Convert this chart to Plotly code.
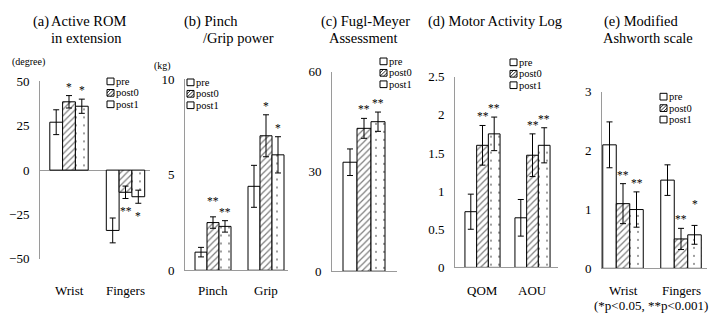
import plotly.graph_objects as go

W, H = 711, 325
SERIF = "Liberation Serif"

series_names = ["pre", "post0", "post1"]

# (a) Active ROM in extension, degree
rom_cats = ["Wrist", "Fingers"]
rom_pre = [27, -34]
rom_post0 = [38.5, -12.5]
rom_post1 = [36, -15]
rom_pre_err = [7, 7]
rom_post0_err = [3.5, 3.5]
rom_post1_err = [4, 3.7]
rom_post0_sig = ["*", "**"]
rom_post1_sig = ["*", "*"]
rom_ticks = [-50, -25, 0, 25, 50]

# (b) Pinch / Grip power, kg
grip_cats = ["Pinch", "Grip"]
grip_pre = [0.95, 4.4]
grip_post0 = [2.5, 7.05]
grip_post1 = [2.3, 6.05]
grip_pre_err = [0.25, 1.1]
grip_post0_err = [0.3, 1.1]
grip_post1_err = [0.3, 0.95]
grip_post0_sig = ["**", "*"]
grip_post1_sig = ["**", "*"]
grip_ticks = [0, 5, 10]

# (c) Fugl-Meyer Assessment
fma_cats = [""]
fma_pre = [32.8]
fma_post0 = [43]
fma_post1 = [45]
fma_pre_err = [4]
fma_post0_err = [3]
fma_post1_err = [2.9]
fma_post0_sig = ["**"]
fma_post1_sig = ["**"]
fma_ticks = [0, 30, 60]

# (d) Motor Activity Log
mal_cats = ["QOM", "AOU"]
mal_pre = [0.73, 0.65]
mal_post0 = [1.6, 1.47]
mal_post1 = [1.75, 1.6]
mal_pre_err = [0.23, 0.24]
mal_post0_err = [0.26, 0.28]
mal_post1_err = [0.22, 0.23]
mal_post0_sig = ["**", "**"]
mal_post1_sig = ["**", "**"]
mal_ticks = [0, 0.5, 1, 1.5, 2, 2.5]

# (e) Modified Ashworth scale
mas_cats = ["Wrist", "Fingers"]
mas_pre = [2.1, 1.5]
mas_post0 = [1.1, 0.5]
mas_post1 = [1.0, 0.57]
mas_pre_err = [0.39, 0.26]
mas_post0_err = [0.34, 0.18]
mas_post1_err = [0.3, 0.16]
mas_post0_sig = ["**", "**"]
mas_post1_sig = ["**", "*"]
mas_ticks = [0, 1, 2, 3]


def fx(px):
    return px / W


def fy(py):
    return 1 - py / H


# geometry of each panel in page pixels
panels = [
    dict(cats=rom_cats, means=(rom_pre, rom_post0, rom_post1),
         errs=(rom_pre_err, rom_post0_err, rom_post1_err),
         sigs=(None, rom_post0_sig, rom_post1_sig), ticks=rom_ticks,
         yrange=[-50, 50], px_x=(40, 150), px_y=(78, 264),
         centers=(69, 125.5), bar_px=12.8, legend=(107, 78)),
    dict(cats=grip_cats, means=(grip_pre, grip_post0, grip_post1),
         errs=(grip_pre_err, grip_post0_err, grip_post1_err),
         sigs=(None, grip_post0_sig, grip_post1_sig), ticks=grip_ticks,
         yrange=[0, 10], px_x=(185, 288), px_y=(76, 276),
         centers=(213, 266), bar_px=12, legend=(187, 79)),
    dict(cats=fma_cats, means=(fma_pre, fma_post0, fma_post1),
         errs=(fma_pre_err, fma_post0_err, fma_post1_err),
         sigs=(None, fma_post0_sig, fma_post1_sig), ticks=fma_ticks,
         yrange=[0, 60], px_x=(332, 397), px_y=(68, 277),
         centers=(364,), bar_px=14, legend=(380, 57)),
    dict(cats=mal_cats, means=(mal_pre, mal_post0, mal_post1),
         errs=(mal_pre_err, mal_post0_err, mal_post1_err),
         sigs=(None, mal_post0_sig, mal_post1_sig), ticks=mal_ticks,
         yrange=[0, 2.5], px_x=(455, 558), px_y=(73, 273),
         centers=(482.5, 532.5), bar_px=11.7, legend=(510, 58)),
    dict(cats=mas_cats, means=(mas_pre, mas_post0, mas_post1),
         errs=(mas_pre_err, mas_post0_err, mas_post1_err),
         sigs=(None, mas_post0_sig, mas_post1_sig), ticks=mas_ticks,
         yrange=[0, 3], px_x=(602, 707), px_y=(89, 274),
         centers=(623, 681), bar_px=13.5, legend=(660, 94)),
]

# extra lift (px) for a few significance marks: (panel, series, category)
star_lift = {(1, 1, 0): 7, (4, 2, 1): 12}

patterns = [
    dict(shape=""),
    dict(shape="/", size=4.5, solidity=0.28, fgcolor="black", bgcolor="white"),
    dict(shape=".", size=8, solidity=0.05, fgcolor="black", bgcolor="white"),
]

fig = go.Figure()
annotations = []
shapes = []
layout_axes = {}

for i, p in enumerate(panels):
    n = i + 1
    xa = "x" if n == 1 else f"x{n}"
    ya = "y" if n == 1 else f"y{n}"
    c0 = p["centers"][0]
    unit = (p["centers"][1] - c0) if len(p["centers"]) > 1 else 50.0
    w = p["bar_px"] / unit
    xr = [(p["px_x"][0] - c0) / unit, (p["px_x"][1] - c0) / unit]
    xs = list(range(len(p["cats"])))

    for k in range(3):
        fig.add_trace(go.Bar(
            x=xs, y=p["means"][k], xaxis=xa, yaxis=ya,
            width=w, offset=(k - 1.5) * w,
            marker=dict(color="white", line=dict(color="black", width=1),
                        pattern=patterns[k]),
            error_y=dict(type="data", array=p["errs"][k], color="black",
                         thickness=1, width=3),
            name=series_names[k], showlegend=False,
        ))
        sig = p["sigs"][k]
        if sig:
            for j, s in enumerate(sig):
                m = p["means"][k][j]
                e = p["errs"][k][j]
                above = m >= 0
                lift = star_lift.get((i, k, j), 0)
                annotations.append(dict(
                    x=xs[j] + (k - 1) * w, y=m + e if above else m - e,
                    xref=xa, yref=ya, text=s, showarrow=False,
                    yanchor="bottom" if above else "top",
                    yshift=(3 + lift) if above else -7,
                    borderpad=0, borderwidth=0,
                    font=dict(family=SERIF, size=11.5, color="#000000"),
                ))

    # category labels below each panel
    for j, c in enumerate(p["cats"]):
        if c:
            annotations.append(dict(
                x=xs[j], y=fy(297), xref=xa, yref="paper", text=c,
                showarrow=False, yanchor="middle",
                font=dict(family=SERIF, size=13, color="black"),
            ))

    neg = p["yrange"][0] < 0
    layout_axes["xaxis" if n == 1 else f"xaxis{n}"] = dict(
        domain=[fx(p["px_x"][0]), fx(p["px_x"][1])], range=xr,
        anchor=ya, showgrid=False, zeroline=False, showticklabels=False,
        ticks="", showline=not neg, linecolor="#9a9a9a", linewidth=1,
        fixedrange=True,
    )
    layout_axes["yaxis" if n == 1 else f"yaxis{n}"] = dict(
        domain=[fy(p["px_y"][1]), fy(p["px_y"][0])], range=p["yrange"],
        anchor=xa, showgrid=False, zeroline=neg, zerolinecolor="#9a9a9a",
        zerolinewidth=1, showline=True, linecolor="#9a9a9a", linewidth=1,
        tickvals=p["ticks"], ticks="", ticklabelstandoff=7,
        tickfont=dict(family=SERIF, size=13, color="black"),
        fixedrange=True,
    )

    # compact legend: small swatches and labels
    lx, ly = p["legend"]
    s = 7
    gap = 12
    for k in range(3):
        y0 = ly + k * gap - s / 2
        shapes.append(dict(type="rect", xref="paper", yref="paper",
                           x0=fx(lx), x1=fx(lx + s), y0=fy(y0 + s), y1=fy(y0),
                           line=dict(color="black", width=1),
                           fillcolor="white"))
        if k == 1:
            for a, b in [((lx, y0 + s), (lx + s, y0)),
                         ((lx, y0 + s / 2), (lx + s / 2, y0)),
                         ((lx + s / 2, y0 + s), (lx + s, y0 + s / 2))]:
                shapes.append(dict(type="line", xref="paper", yref="paper",
                                   x0=fx(a[0]), y0=fy(a[1]),
                                   x1=fx(b[0]), y1=fy(b[1]),
                                   line=dict(color="black", width=0.8)))
        annotations.append(dict(
            x=fx(lx + s + 1), y=fy(ly + k * gap), xref="paper", yref="paper",
            text=series_names[k], showarrow=False, xanchor="left",
            yanchor="middle", borderpad=0,
            font=dict(family=SERIF, size=10.5, color="black"),
        ))


def text_at(x, y, t, size=14.5, anchor="left"):
    annotations.append(dict(x=fx(x), y=fy(y), xref="paper", yref="paper",
                            text=t, showarrow=False, xanchor=anchor,
                            yanchor="middle", align="left",
                            font=dict(family=SERIF, size=size, color="black")))


# panel titles
text_at(31, 15, "(a)")
text_at(49, 15, "Active ROM")
text_at(49, 32, "in extension")
text_at(182, 15, "(b) Pinch")
text_at(201, 33, "/Grip power")
text_at(319, 15, "(c) Fugl-Meyer")
text_at(327, 32, "Assessment")
text_at(426, 15, "(d) Motor Activity Log")
text_at(602, 15, "(e) Modified")
text_at(601, 33, "Ashworth scale")

# unit labels
text_at(29, 58, "(degree)", size=10, anchor="center")
text_at(162, 62, "(kg)", size=10, anchor="center")

# significance note
text_at(710, 313, "(*p<0.05, **p<0.001)", size=13, anchor="right")

fig.update_layout(
    width=W, height=H, margin=dict(l=0, r=0, t=0, b=0),
    paper_bgcolor="white", plot_bgcolor="white",
    barmode="overlay", showlegend=False,
    annotations=annotations, shapes=shapes,
    **layout_axes,
)

fig.write_html("out.html")
